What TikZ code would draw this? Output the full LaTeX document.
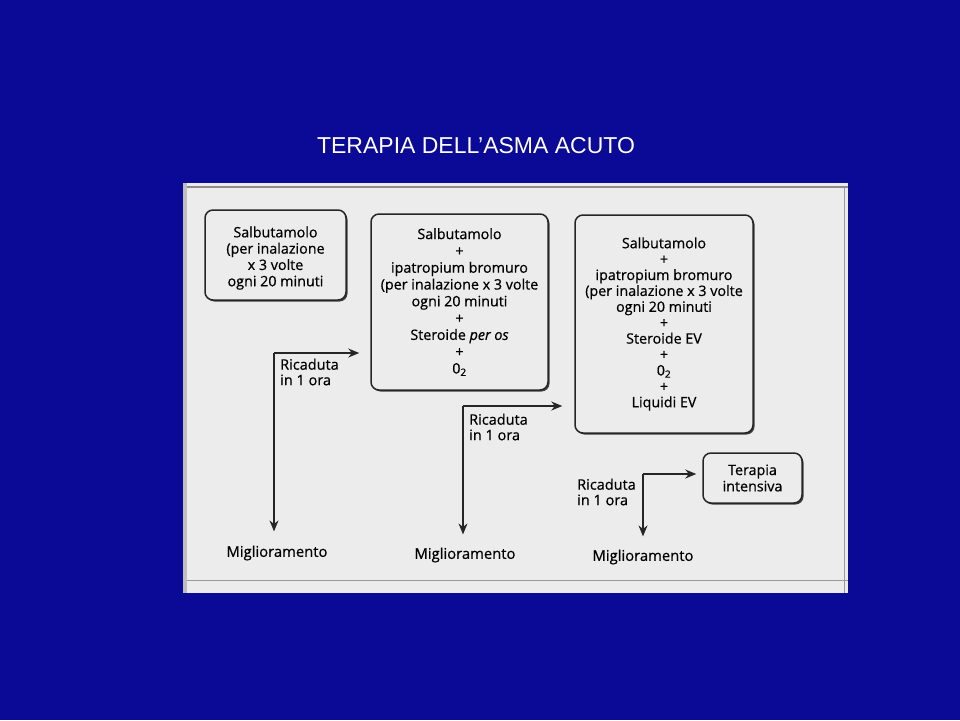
\documentclass[tikz,border=0pt]{standalone}
\usepackage{fontspec}
\setmainfont{Liberation Sans}
\newfontfamily\boxfont[FakeBold=0.6]{Open Sans}
\usetikzlibrary{shadows}
\usetikzlibrary{arrows.meta}

\definecolor{slideblue}{RGB}{10,10,150}
\definecolor{scanpaper}{RGB}{236,236,236}

\tikzset{
  cardbox/.style={draw=black!85, line width=1.5pt, rounded corners=8pt,
    fill=scanpaper, align=center, inner sep=0pt,
    font=\boxfont\fontsize{14.3}{16.3}\selectfont,
    drop shadow={shadow xshift=1.5pt, shadow yshift=-1.5pt, fill=black!75, opacity=1}},
  relapse/.style={align=left, inner sep=0pt,
    font=\boxfont\fontsize{14.5}{15.5}\selectfont},
  better/.style={inner sep=0pt, font=\boxfont\fontsize{14.8}{16}\selectfont},
  flow/.style={line width=1.3pt, black!85, -{Stealth[length=11pt,width=9pt]}}
}

\begin{document}
\begin{tikzpicture}[x=1pt,y=-1pt]
\useasboundingbox (0,0) rectangle (960,720);
\fill[slideblue] (0,0) rectangle (960,720);
\node [text=white, font=\fontsize{23}{26}\selectfont] (title)
       at (476,146) {TERAPIA DELL’ASMA ACUTO};
% scanned page
\fill[scanpaper] (183,183) rectangle (848,593);
\draw[black!45, line width=1.2pt] (183,187) -- (848,187);
\draw[black!40, line width=1pt] (183,580) -- (848,580);
\draw[black!40, line width=1pt] (844,187) -- (844,593);
\fill[black!25] (183,183) rectangle (187,593);

% boxes
\node [cardbox, minimum width=141pt, minimum height=90pt] (b1)
       at (275.5,255) {\rule{0pt}{17pt}Salbutamolo\\(per inalazione\\x 3 volte\\ogni 20 minuti};
\node [cardbox, minimum width=177pt, minimum height=176pt,
       font=\boxfont\fontsize{14.3}{16.8}\selectfont] (b2)
       at (459.5,302) {Salbutamolo\\+\\ipatropium bromuro\\(per inalazione x 3 volte\\ogni 20 minuti\\+\\Steroide \textit{per os}\\+\\0\textsubscript{2}};
\node [cardbox, minimum width=178pt, minimum height=218pt,
       font=\boxfont\fontsize{14.3}{15.9}\selectfont] (b3)
       at (664,324) {Salbutamolo\\+\\ipatropium bromuro\\(per inalazione x 3 volte\\ogni 20 minuti\\+\\Steroide EV\\+\\0\textsubscript{2}\\+\\Liquidi EV};
\node [cardbox, minimum width=99pt, minimum height=50pt] (b4)
       at (752.5,478) {Terapia\\intensiva};

% outcomes
\node [better] (m1) at (277,553) {Miglioramento};
\node [better] (m2) at (465,555) {Miglioramento};
\node [better] (m3) at (643,557) {Miglioramento};

% relapse labels
\node [relapse, anchor=west] (r1) at (280,372) {Ricaduta\\in 1 ora};
\node [relapse, anchor=west] (r2) at (469,427) {Ricaduta\\in 1 ora};
\node [relapse, anchor=east] (r3) at (636,492) {Ricaduta\\in 1 ora};

% branch points
\coordinate (c1) at (274,353);
\coordinate (c2) at (463,406);
\coordinate (c3) at (643,474);

\draw [flow, shorten >=11pt] (c1) -- (c1 -| b2.west);
\draw [flow, shorten >=14pt] (c1) -- (c1 |- m1.north);
\draw [flow, shorten >=12pt] (c2) -- (c2 -| b3.west);
\draw [flow, shorten >=13pt] (c2) -- (c2 |- m2.north);
\draw [flow, shorten >=6pt] (c3) -- (c3 -| b4.west);
\draw [flow, shorten >=13pt] (c3) -- (c3 |- m3.north);
\end{tikzpicture}
\end{document}
